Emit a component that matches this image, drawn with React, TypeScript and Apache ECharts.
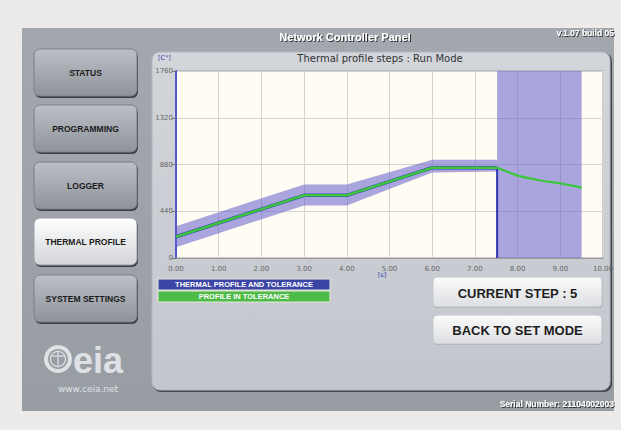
import React, { useEffect, useRef } from "react";
import * as echarts from "echarts";

// ---- data ----
const xTickValues = [0, 1, 2, 3, 4, 5, 6, 7, 8, 9, 10];
const yTickValues = [0, 440, 880, 1320, 1760];
const profileX = [0, 3, 4, 6, 7.52];
const profileY = [200, 590, 590, 850, 850];
const upperY = [300, 692, 692, 925, 925];
const lowerY = [102, 495, 495, 805, 815];
const coolX = [7.52, 7.7, 8.0, 8.5, 9.0, 9.5];
const coolY = [850, 822, 775, 732, 702, 662];
const runStart = 7.52;
const runEnd = 9.5;
const menuItems = ["STATUS", "PROGRAMMING", "LOGGER", "THERMAL PROFILE", "SYSTEM SETTINGS"];
const activeMenu = "THERMAL PROFILE";
const legendItems = ["THERMAL PROFILE AND TOLERANCE", "PROFILE IN TOLERANCE"];

const FONT = "Liberation Sans, Arial, sans-serif";
const VFONT = "DejaVu Sans, Verdana, sans-serif";

function grad(c1: string, c2: string) {
  return new echarts.graphic.LinearGradient(0, 0, 0, 1, [
    { offset: 0, color: c1 },
    { offset: 1, color: c2 },
  ]);
}

function menuButton(label: string, y: number, active: boolean): any[] {
  const x = 34, w = 103, h = 47;
  return [
    { type: "rect", shape: { x: x + 1, y: y + 2, width: w, height: h, r: 6 }, style: { fill: "#3b3e44" }, z: 1 },
    {
      type: "rect",
      shape: { x, y, width: w, height: h, r: 6 },
      style: {
        fill: active ? grad("#ffffff", "#d3d5d8") : grad("#bcc0c6", "#8e939a"),
        stroke: active ? "#9a9ea4" : "#7b8087",
        lineWidth: 1,
      },
      z: 2,
    },
    {
      type: "text",
      x: x + w / 2,
      y: y + h / 2,
      style: {
        text: label,
        fill: "#1c1c1c",
        font: `bold 8.5px ${FONT}`,
        align: "center",
        verticalAlign: "middle",
      },
      z: 3,
    },
  ];
}

function bigButton(label: string, y: number, h: number): any[] {
  const x = 433, w = 169;
  return [
    { type: "rect", shape: { x: x + 0.5, y: y + 1, width: w, height: h, r: 4 }, style: { fill: "#a6aab0" }, z: 3 },
    {
      type: "rect",
      shape: { x, y, width: w, height: h, r: 4 },
      style: { fill: grad("#fbfbfb", "#dcdee1"), stroke: "#c2c5ca", lineWidth: 1 },
      z: 4,
    },
    {
      type: "text",
      x: x + w / 2,
      y: y + h / 2 + 1,
      style: { text: label, fill: "#1e1e1e", font: `bold 13px ${FONT}`, align: "center", verticalAlign: "middle" },
      z: 5,
    },
  ];
}

export default function App() {
  const ref = useRef<HTMLDivElement>(null);

  useEffect(() => {
    if (!ref.current) return;
    const chart = echarts.init(ref.current, undefined, { renderer: "svg" });

    const shadow = {
      textShadowColor: "rgba(40,40,40,0.9)",
      textShadowOffsetX: 1,
      textShadowOffsetY: 1,
      textShadowBlur: 1,
    };

    const graphics: any[] = [
      // main panel
      { type: "rect", shape: { x: 22, y: 28, width: 592, height: 383 }, style: { fill: grad("#a3a8af", "#989da4") }, z: -20 },
      {
        type: "text",
        x: 345,
        y: 37,
        style: {
          text: "Network Controller Panel",
          fill: "#ffffff",
          font: `bold 11px ${FONT}`,
          align: "center",
          verticalAlign: "middle",
          ...shadow,
        },
        z: 5,
      },
      {
        type: "text",
        x: 614,
        y: 33,
        style: {
          text: "v.1.07 build 05",
          fill: "#ffffff",
          font: `bold 8.5px ${FONT}`,
          align: "right",
          verticalAlign: "middle",
          ...shadow,
        },
        z: 5,
      },
      {
        type: "text",
        x: 614,
        y: 404,
        style: {
          text: "Serial Number: 21104002003",
          fill: "#ffffff",
          font: `bold 8.5px ${FONT}`,
          align: "right",
          verticalAlign: "middle",
          ...shadow,
        },
        z: 5,
      },
      // inner chart panel
      { type: "rect", shape: { x: 153, y: 53, width: 459, height: 339, r: 8 }, style: { fill: "#45484e" }, z: -15 },
      {
        type: "rect",
        shape: { x: 152, y: 52, width: 458, height: 338, r: 8 },
        style: { fill: grad("#d2d5da", "#c3c7cd"), stroke: "#b4b8be", lineWidth: 1 },
        z: -14,
      },
      {
        type: "text",
        x: 380,
        y: 58,
        style: { text: "Thermal profile steps : Run Mode", fill: "#333333", font: `10px ${VFONT}`, align: "center", verticalAlign: "middle" },
        z: 5,
      },
      {
        type: "text",
        x: 158,
        y: 58,
        style: { text: "[C°]", fill: "#3a3fb0", font: `6.5px ${VFONT}`, align: "left", verticalAlign: "middle" },
        z: 5,
      },
      {
        type: "text",
        x: 382,
        y: 275,
        style: { text: "[s]", fill: "#3a3fb0", font: `6.5px ${VFONT}`, align: "center", verticalAlign: "middle" },
        z: 5,
      },
      // legend boxes
      { type: "rect", shape: { x: 158, y: 279, width: 172, height: 11 }, style: { fill: "#3a45a6", stroke: "#e8e8d8", lineWidth: 1 }, z: 4 },
      {
        type: "text",
        x: 244,
        y: 284.5,
        style: { text: legendItems[0], fill: "#ffffff", font: `bold 7.5px ${FONT}`, align: "center", verticalAlign: "middle" },
        z: 5,
      },
      { type: "rect", shape: { x: 158, y: 291, width: 172, height: 11 }, style: { fill: "#4dbb47", stroke: "#e8e8d8", lineWidth: 1 }, z: 4 },
      {
        type: "text",
        x: 244,
        y: 296.5,
        style: { text: legendItems[1], fill: "#ffffff", font: `bold 7.5px ${FONT}`, align: "center", verticalAlign: "middle" },
        z: 5,
      },
      ...bigButton("CURRENT STEP : 5", 277, 30),
      ...bigButton("BACK TO SET MODE", 315, 29),
      // logo
      { type: "ring", shape: { cx: 58, cy: 359, r: 14, r0: 10 }, style: { fill: "#dfe1e4" }, z: 3 },
      { type: "circle", shape: { cx: 58, cy: 359, r: 7.5 }, style: { fill: "none", stroke: "#dfe1e4", lineWidth: 1.2 }, z: 3 },
      { type: "line", shape: { x1: 51, y1: 356, x2: 65, y2: 356 }, style: { stroke: "#dfe1e4", lineWidth: 1.2 }, z: 3 },
      { type: "line", shape: { x1: 58, y1: 352, x2: 58, y2: 366 }, style: { stroke: "#dfe1e4", lineWidth: 1.2 }, z: 3 },
      {
        type: "text",
        x: 73,
        y: 360,
        style: { text: "eia", fill: "#dfe1e4", font: `bold 36px ${FONT}`, align: "left", verticalAlign: "middle" },
        z: 3,
      },
      {
        type: "text",
        x: 88,
        y: 389,
        style: { text: "www.ceia.net", fill: "#dfe1e4", font: `9px ${VFONT}`, align: "center", verticalAlign: "middle" },
        z: 3,
      },
    ];
    const menuY = [49, 105, 162, 218, 275];
    menuItems.forEach((m, i) => graphics.push(...menuButton(m, menuY[i], m === activeMenu)));

    const bandFill = "rgba(100,92,200,0.55)";

    chart.setOption({
      animation: false,
      backgroundColor: "#ecebe9",
      grid: {
        left: 176,
        right: 18,
        top: 71,
        bottom: 172,
        show: true,
        backgroundColor: "#fffcf3",
        borderColor: "#9c9c9c",
        borderWidth: 1,
        z: 0,
      },
      xAxis: {
        type: "value",
        min: xTickValues[0],
        max: xTickValues[xTickValues.length - 1],
        interval: 1,
        axisLine: { show: true, lineStyle: { color: "#9c9c9c", width: 1 } },
        axisTick: { show: false },
        axisLabel: {
          color: "#666666",
          fontSize: 7,
          fontFamily: VFONT,
          margin: 7,
          formatter: (v: number) => v.toFixed(2),
        },
        splitLine: { show: true, lineStyle: { color: "#d4d4d4", width: 1 } },
      },
      yAxis: {
        type: "value",
        min: yTickValues[0],
        max: yTickValues[yTickValues.length - 1],
        interval: 440,
        axisLine: { show: true, lineStyle: { color: "#5458c8", width: 2 } },
        axisTick: { show: true, length: 4, lineStyle: { color: "#777777" } },
        axisLabel: { color: "#666666", fontSize: 7, fontFamily: VFONT, margin: 3, formatter: (v: number) => String(v) },
        splitLine: { show: true, lineStyle: { color: "#d4d4d4", width: 1 } },
      },
      graphic: { elements: graphics },
      series: [
        {
          type: "custom",
          z: 2,
          clip: true,
          data: [[0, 0]],
          encode: { x: 0, y: 1 },
          renderItem: (_params: any, api: any) => {
            const pts: number[][] = [];
            for (let i = 0; i < profileX.length; i++) pts.push(api.coord([profileX[i], upperY[i]]));
            for (let i = profileX.length - 1; i >= 0; i--) pts.push(api.coord([profileX[i], lowerY[i]]));
            return { type: "polygon", shape: { points: pts }, style: { fill: bandFill } };
          },
        },
        {
          type: "line",
          z: 3,
          symbol: "none",
          data: [
            [runStart, profileY[profileY.length - 1]],
            [runStart, 0],
          ],
          lineStyle: { color: "#2f35b0", width: 2 },
          markArea: {
            silent: true,
            itemStyle: { color: bandFill },
            data: [[{ xAxis: runStart }, { xAxis: runEnd }]],
          },
        },
        {
          type: "line",
          z: 4,
          symbol: "none",
          data: profileX.map((x, i) => [x, profileY[i]]),
          lineStyle: { color: "#3a40b4", width: 3.5 },
        },
        {
          type: "line",
          z: 5,
          symbol: "none",
          data: profileX.map((x, i) => [x, profileY[i]]),
          lineStyle: { color: "#3cc63c", width: 2.5 },
        },
        {
          type: "line",
          z: 5,
          symbol: "none",
          smooth: 0.3,
          data: coolX.map((x, i) => [x, coolY[i]]),
          lineStyle: { color: "#3cc63c", width: 2.2 },
        },
      ],
    });

    return () => chart.dispose();
  }, []);

  return <div ref={ref} style={{ position: "fixed", left: 0, top: 0, width: 621, height: 430 }} />;
}
